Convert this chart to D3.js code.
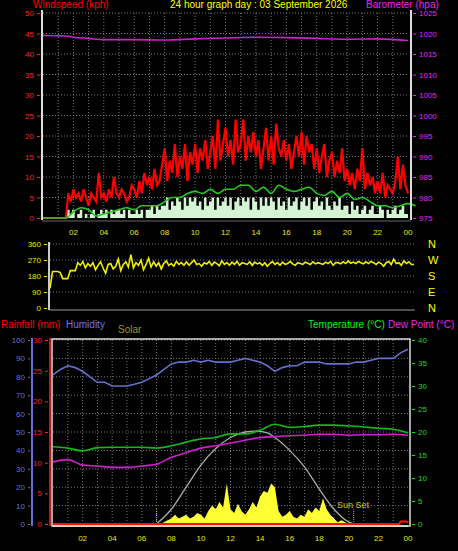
<!DOCTYPE html>
<html><head><meta charset="utf-8">
<script src="https://cdn.jsdelivr.net/npm/d3@7"></script>
<style>body{margin:0;background:#000}svg{display:block;font-family:"Liberation Sans",Arial,sans-serif}</style>
</head><body><div id="chart"></div>
<script>
const hourTicks = ['02','04','06','08','10','12','14','16','18','20','22','00'];

// 10-minute data, 0:00 .. 24:00
const gust = [0,0,0,0,0,0, 0,0,0,0,6,4, 7,5,6,4,7,5, 3,6,5,4,11,5, 6,4,7,5,10,6, 5,7,6,4,5,8,
  7,5,9,6,11,8, 10,7,12,8,9,13, 17,9,14,11,18,10, 15,12,18,9,16,13, 18,11,17,14,19,12, 16,20,12,24,14,18,
  22,15,19,13,24,16, 18,24,14,20,16,21, 15,19,12,17,22,14, 20,13,23,17,15,19, 14,18,12,16,20,15, 21,13,20,16,18,12,
  17,11,15,18,10,14, 16,10,14,11,17,9, 12,8,11,7,12,9, 17,7,11,8,10,6, 9,6,11,5,8,7, 6,9,15,7,13,8, 6];
const windSpeed = [0,0,0,0,0,0, 0,0,0,0,2,1, 2,0,1,2,0,1, 0,1,2,0,1,2, 1,2,0,2,1,2, 2,1,2,0,2,1,
  1,2,1,2,0,2, 2,3,1,3,2,3, 3,5,2,4,3,5, 4,2,5,3,5,4, 5,3,4,2,5,3, 4,5,2,5,3,4,
  5,3,5,2,4,5, 3,5,4,5,2,5, 4,2,5,3,5,3, 5,4,2,5,3,4, 2,5,3,4,5,2, 4,5,3,5,2,4,
  5,3,4,2,5,3, 2,4,3,5,2,3, 3,1,4,2,3,1, 2,3,1,2,3,1, 1,3,2,0,2,1, 2,3,1,2,3,1, 1];
const windDir = [110,205,205,205,200,165, 165,165,210,210,210,255, 240,262,225,250,235,255, 215,240,260,225,195,245,
  250,220,235,275,210,245, 260,230,300,225,255,240, 270,215,245,280,230,260, 235,255,220,250,265,240,
  250,235,262,245,255,240, 260,240,255,270,245,250, 235,255,248,262,240,258, 250,238,265,245,255,240,
  258,245,262,240,255,250, 245,260,240,258,248,255, 240,255,235,250,262,245, 255,240,258,245,250,262,
  248,240,255,250,245,258, 252,245,260,248,255,250, 245,258,250,262,240,255, 255,248,260,250,265,252,
  258,250,262,255,248,260, 250,262,255,245,258,250, 235,255,262,245,275,250, 255,240,265,250,260,245, 245];

// half-hourly
const avgWind = [0,0,0,0,1.5,2.5,2,0.5,1,1.5,2,2.5,2,3,3,3,4,5,5,6,6.5,6,7,6,7,7,8,8,6.5,7.5,6,8,7,6.5,7,7.5,6,5.5,6.5,5,6,4.5,5,4,3,3,2.5,3,3.5,3];
const humidity = [81,84,86,85,83,80,77,77,75,75,75,76,77,79,81,84,87,88,88,89,88,89,88,88,88,89,90,89,88,86,83,85,86,86,88,88,88,87,87,87,87,88,88,89,90,90,90,93,95];
const baroHours = [0,1.5,2,3,4,6,8,10,12,14,16,18,20,22,24];
const baro = [1019.5,1019.4,1019.1,1018.8,1018.5,1018.5,1018.4,1018.7,1018.9,1019.1,1019.0,1018.8,1018.6,1018.7,1018.3];

// hourly
const temperature = [16.8,16.5,15.9,16.6,16.7,16.7,16.7,16.5,17,17.8,18.5,18.8,19.6,19.6,20.4,21.7,21,21.2,21.5,21.5,21.3,21.1,20.8,20.6,19.8];
const dewPoint = [13.5,14,12.8,12.6,12.3,12.3,12.6,13,14.5,15.5,16.5,17,17.6,18.2,18.8,19,19.2,19.3,19.5,19.5,19.3,19.4,19.4,19.5,19.3];

// solar, 15-minute from 07:00 to 20:15 (humidity scale)
const solar = [0,0,1,2,3,5,3,4,5,3,4,6,5,3,7,10,8,12,9,22,8,6,11,7,5,8,12,9,15,18,17,22,20,7,4,5,7,4,3,5,4,8,6,9,7,14,8,5,3,1,2,1,0,0];
const sunHours = [7,8,9,10,11,12,13,13.75,14.5,15,16,17,18,19,20,20.33];
const solarMax = [0,8,20,32,41,47,50,50.5,49.5,47,40,31,19,8,1,0];
const rainHours = [0,23.4,23.5,23.9,24];
const rain = [0,0,0.4,0.4,0.2];

const W = 458, H = 551;
const svg = d3.select('#chart').append('svg').attr('width', W).attr('height', H);
svg.append('rect').attr('width', W).attr('height', H).attr('fill', '#000');

const every10 = (a) => a.map((v, i) => [i / 6, v]);
const every30 = (a) => a.map((v, i) => [i / 2, v]);
const hourly = (a) => a.map((v, i) => [i, v]);

function grid(g, x, y, yTicks, hourStep) {
  g.selectAll('.gy').data(yTicks).join('line')
    .attr('x1', x.range()[0]).attr('x2', x.range()[1])
    .attr('y1', d => y(d)).attr('y2', d => y(d))
    .attr('stroke', '#777').attr('stroke-dasharray', '1,2');
  if (hourStep) g.append('g').selectAll('line').data(d3.range(1, 24, hourStep)).join('line')
    .attr('x1', d => x(d)).attr('x2', d => x(d))
    .attr('y1', y.range()[0]).attr('y2', y.range()[1])
    .attr('stroke', '#777').attr('stroke-dasharray', '1,2');
}

function axis(gen, color, tx, ty) {
  const g = svg.append('g').attr('transform', `translate(${tx},${ty})`).call(gen);
  g.select('.domain').remove();
  g.selectAll('line').attr('stroke', color);
  g.selectAll('text').attr('fill', color).style('font-size', '8px');
  return g;
}

function hourAxis(x, yPos) {
  svg.append('g').selectAll('text').data(hourTicks).join('text')
    .attr('x', (d, i) => x((i + 1) * 2)).attr('y', yPos)
    .attr('text-anchor', 'middle').attr('fill', '#e8e800').style('font-size', '8px').text(d => d);
}

function label(txt, x, y, color, size) {
  svg.append('text').attr('x', x).attr('y', y).attr('fill', color)
    .style('font-size', (size || 10) + 'px').text(txt);
}

// ---------- top panel: wind + barometer ----------
const x1 = d3.scaleLinear().domain([0, 24]).range([43, 408]);
const yW = d3.scaleLinear().domain([0, 50]).range([218, 13]);
const yB = d3.scaleLinear().domain([975, 1025]).range([218, 13]);
const windG = svg.append('g');
grid(windG, x1, yW, d3.range(5, 55, 5), 1);

windG.append('path').datum(every10(windSpeed))
  .attr('d', d3.area().curve(d3.curveStep).x(d => x1(d[0])).y0(yW(0)).y1(d => yW(d[1])))
  .attr('fill', '#d4f5d4');
windG.append('path').datum(every10(gust))
  .attr('d', d3.line().x(d => x1(d[0])).y(d => yW(d[1])))
  .attr('fill', 'none').attr('stroke', '#ff0000').attr('stroke-width', 2.2);
windG.append('path').datum(every30(avgWind))
  .attr('d', d3.line().curve(d3.curveMonotoneX).x(d => x1(d[0])).y(d => yW(d[1])))
  .attr('fill', 'none').attr('stroke', '#22cc22').attr('stroke-width', 1.6);
windG.append('path').datum(baroHours.map((h, i) => [h, baro[i]]))
  .attr('d', d3.line().curve(d3.curveMonotoneX).x(d => x1(d[0])).y(d => yB(d[1])))
  .attr('fill', 'none').attr('stroke', '#cc22cc').attr('stroke-width', 1.6);

windG.append('line').attr('x1', 42).attr('x2', 42).attr('y1', 10).attr('y2', 220).attr('stroke', '#ddd').attr('stroke-width', 2);
windG.append('line').attr('x1', 411).attr('x2', 411).attr('y1', 10).attr('y2', 220).attr('stroke', '#ddd').attr('stroke-width', 2);
windG.append('line').attr('x1', 42).attr('x2', 411).attr('y1', 221).attr('y2', 221).attr('stroke', '#666');
axis(d3.axisLeft(yW).tickValues(d3.range(0, 55, 5)).tickSize(3), '#ff2020', 40, 0);
axis(d3.axisRight(yB).tickValues(d3.range(975, 1030, 5)).tickFormat(d3.format('d')).tickSize(3), '#ee22ee', 413, 0);
hourAxis(x1, 235);
label('Windspeed (kph)', 33, 8, '#ff0000');
label('24 hour graph day : 03 September 2026', 170, 8, '#ffff00');
label('Barometer (hpa)', 366, 8, '#ee22ee');

// ---------- middle panel: wind direction ----------
const x2 = d3.scaleLinear().domain([0, 24]).range([50, 414]);
const yD = d3.scaleLinear().domain([0, 360]).range([308, 244]);
const dirG = svg.append('g');
grid(dirG, x2, yD, [90, 180, 270, 360], 0);
dirG.append('path').datum(every10(windDir))
  .attr('d', d3.line().x(d => x2(d[0])).y(d => yD(d[1])))
  .attr('fill', 'none').attr('stroke', '#f0f000').attr('stroke-width', 1.6);
dirG.append('line').attr('x1', 49).attr('x2', 49).attr('y1', 242).attr('y2', 310).attr('stroke', '#ccc').attr('stroke-width', 2);
dirG.append('line').attr('x1', 49).attr('x2', 415).attr('y1', 310).attr('y2', 310).attr('stroke', '#999');
axis(d3.axisLeft(yD).tickValues([0, 90, 180, 270, 360]).tickSize(3), '#e8e800', 47, 0);
['N', 'W', 'S', 'E', 'N'].forEach((c, i) => label(c, 428, yD(360 - i * 90) + 4, '#ffff00', 11));

// ---------- bottom panel ----------
const x3 = d3.scaleLinear().domain([0, 24]).range([53, 408]);
const yH = d3.scaleLinear().domain([0, 100]).range([524, 340]);
const yR = d3.scaleLinear().domain([0, 30]).range([524, 340]);
const yT = d3.scaleLinear().domain([0, 40]).range([524, 340]);
const bot = svg.append('g');
grid(bot, x3, yH, d3.range(10, 110, 10), 1);

bot.append('path').datum(solar.map((v, i) => [7 + i / 4, v]))
  .attr('d', d3.area().x(d => x3(d[0])).y0(yH(0)).y1(d => yH(d[1])))
  .attr('fill', '#ffff33');
bot.append('path').datum(sunHours.map((h, i) => [h, solarMax[i]]))
  .attr('d', d3.line().curve(d3.curveMonotoneX).x(d => x3(d[0])).y(d => yH(d[1])))
  .attr('fill', 'none').attr('stroke', '#aaa').attr('stroke-width', 1.3);
[7, 20.33].forEach(h => bot.append('line').attr('x1', x3(h)).attr('x2', x3(h))
  .attr('y1', yH(0)).attr('y2', yH(8)).attr('stroke', '#cccc00').attr('stroke-dasharray', '1,1'));
label('Sun Set', 337, 508, '#cccc00', 9);

bot.append('path').datum(hourly(temperature))
  .attr('d', d3.line().curve(d3.curveMonotoneX).x(d => x3(d[0])).y(d => yT(d[1])))
  .attr('fill', 'none').attr('stroke', '#11bb11').attr('stroke-width', 1.6);
bot.append('path').datum(hourly(dewPoint))
  .attr('d', d3.line().curve(d3.curveMonotoneX).x(d => x3(d[0])).y(d => yT(d[1])))
  .attr('fill', 'none').attr('stroke', '#cc22cc').attr('stroke-width', 1.6);
bot.append('path').datum(every30(humidity))
  .attr('d', d3.line().x(d => x3(d[0])).y(d => yH(d[1])))
  .attr('fill', 'none').attr('stroke', '#6670cc').attr('stroke-width', 1.6);
bot.append('line').attr('x1', x3(0)).attr('x2', x3(24)).attr('y1', yR(0) + 2).attr('y2', yR(0) + 2).attr('stroke', '#ffff99').attr('stroke-width', 1.5);
bot.append('path').datum(rainHours.map((h, i) => [h, rain[i]]))
  .attr('d', d3.line().x(d => x3(d[0])).y(d => yR(d[1])))
  .attr('fill', 'none').attr('stroke', '#ff1010').attr('stroke-width', 2);

bot.append('rect').attr('x', 52).attr('y', 339).attr('width', 358).attr('height', 187)
  .attr('fill', 'none').attr('stroke', '#ddd').attr('stroke-width', 1.5);
bot.append('line').attr('x1', 32).attr('x2', 32).attr('y1', 338).attr('y2', 526).attr('stroke', '#6670cc').attr('stroke-width', 2);
bot.append('line').attr('x1', 50).attr('x2', 50).attr('y1', 338).attr('y2', 526).attr('stroke', '#ff2020').attr('stroke-width', 1.5);
axis(d3.axisLeft(yH).tickValues(d3.range(0, 110, 10)).tickSize(2), '#6670dd', 30, 0);
axis(d3.axisLeft(yR).tickValues(d3.range(0, 35, 5)).tickSize(3), '#ff2020', 48, 0);
axis(d3.axisRight(yT).tickValues(d3.range(0, 45, 5)).tickSize(3), '#11dd11', 412, 0);
hourAxis(x3, 541);
label('Rainfall (mm)', 1, 328, '#ff0000');
label('Humidity', 66, 328, '#7070ff');
label('Solar', 118, 333, '#999922');
label('Temperature (°C)', 308, 328, '#11ee11');
label('Dew Point (°C)', 388, 328, '#ee22ee');
</script></body></html>
